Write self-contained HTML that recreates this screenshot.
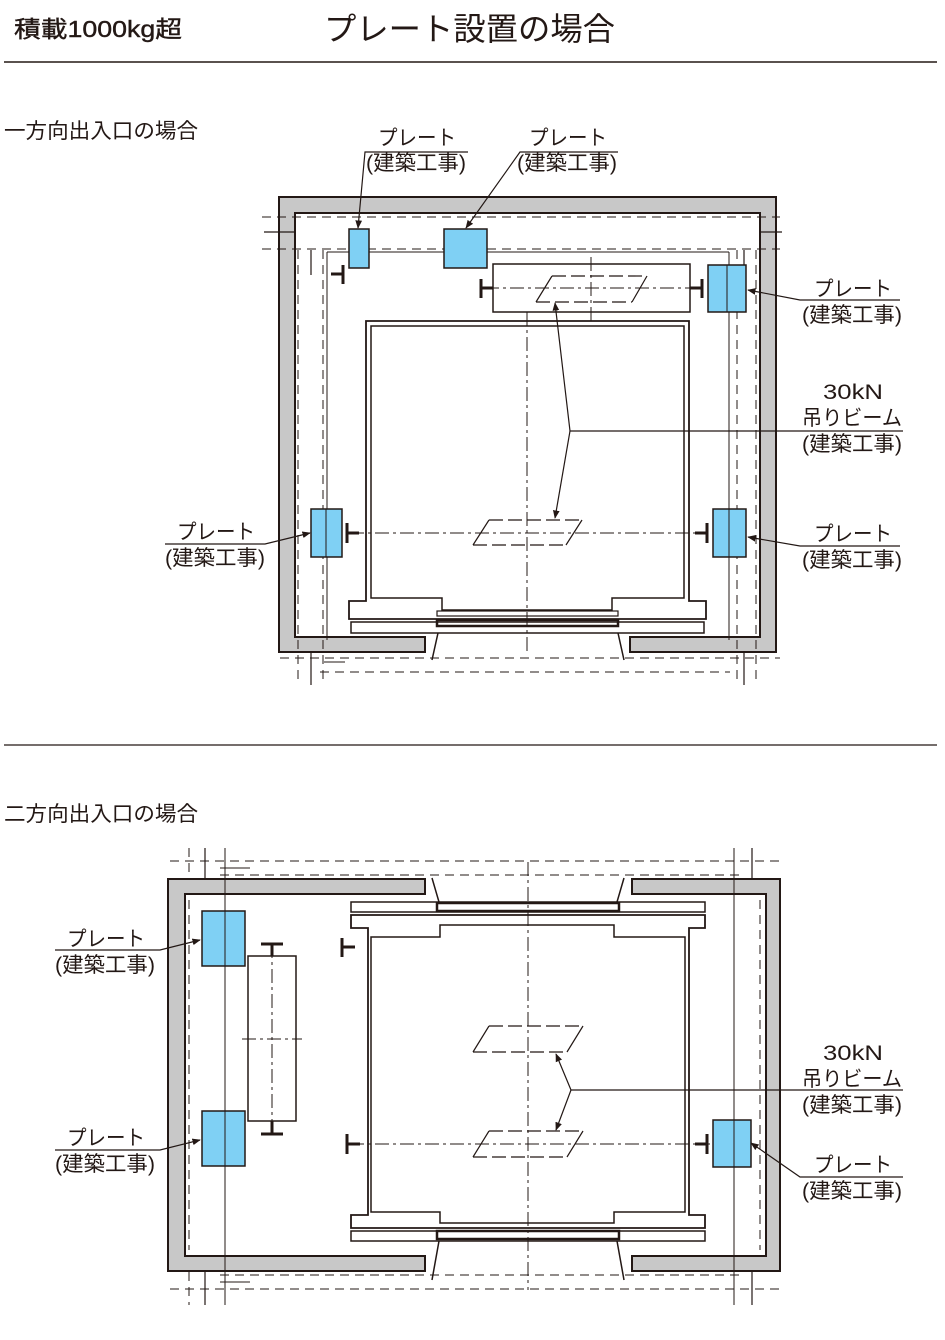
<!DOCTYPE html>
<html><head><meta charset="utf-8"><style>
html,body{margin:0;padding:0;background:#fff;}
svg{display:block;}
text{font-family:"Liberation Sans","Noto Sans CJK JP",sans-serif;fill:#231815;}
</style></head><body>
<svg width="945" height="1340" viewBox="0 0 945 1340" xmlns="http://www.w3.org/2000/svg">
<defs>
<marker id="ar" viewBox="0 0 10 10" refX="9" refY="5" markerWidth="7" markerHeight="7" orient="auto"><path d="M0,1 L10,5 L0,9 z" fill="#231815"/></marker>
</defs>
<text x="14" y="37" font-size="23" textLength="168" lengthAdjust="spacingAndGlyphs" stroke="#231815" stroke-width="0.4">積載1000kg超</text>
<text x="324" y="40" font-size="32" textLength="291" lengthAdjust="spacingAndGlyphs">プレート設置の場合</text>
<line x1="4" y1="62" x2="937" y2="62" stroke="#231815" stroke-width="1.5"/>
<text x="4" y="138" font-size="21" textLength="194" lengthAdjust="spacingAndGlyphs">一方向出入口の場合</text>
<line x1="4" y1="745" x2="937" y2="745" stroke="#231815" stroke-width="1.2"/>
<text x="4" y="821" font-size="21" textLength="194" lengthAdjust="spacingAndGlyphs">二方向出入口の場合</text>

<g stroke="#231815" fill="none">
<path d="M279,197 H776 V652 H630 V637 H760 V213 H295 V637 H425 V652 H279 Z" fill="#c8c8c8" stroke-width="2"/>
<g stroke-dasharray="9,6" stroke-width="1">
<line x1="262" y1="217" x2="780" y2="217"/>
<line x1="262" y1="249" x2="780" y2="249"/>
<line x1="298" y1="250" x2="298" y2="685"/>
<line x1="323" y1="250" x2="323" y2="685"/>
<line x1="756" y1="250" x2="756" y2="685"/>
<line x1="737" y1="250" x2="737" y2="685"/>
<line x1="280" y1="658" x2="780" y2="658"/>
<line x1="320" y1="672" x2="730" y2="672"/>
</g>
<line x1="327" y1="252" x2="729" y2="252" stroke-width="1"/>
<line x1="327" y1="252" x2="327" y2="640" stroke-width="1"/>
<line x1="729" y1="252" x2="729" y2="640" stroke-width="1"/>
<line x1="311" y1="250" x2="311" y2="275" stroke-width="1.2"/>
<line x1="744" y1="250" x2="744" y2="275" stroke-width="1.2"/>
<line x1="264" y1="232" x2="295" y2="232" stroke-width="1.2"/>
<line x1="760" y1="232" x2="782" y2="232" stroke-width="1.2"/>
<line x1="311" y1="652" x2="311" y2="685" stroke-width="1.2"/>
<line x1="744" y1="652" x2="744" y2="685" stroke-width="1.2"/>
<line x1="324" y1="662" x2="345" y2="662" stroke-width="1"/>
<g fill="#7fd0f4" stroke-width="1.5">
<rect x="349" y="229" width="20" height="39"/>
<rect x="444" y="229" width="43" height="39"/>
<rect x="708" y="265" width="38" height="47"/>
<rect x="311" y="509" width="31" height="48"/>
<rect x="713" y="509" width="33" height="48"/>
</g>
<line x1="727" y1="265" x2="727" y2="312" stroke-width="1"/>
<line x1="326" y1="509" x2="326" y2="557" stroke-width="1"/>
<line x1="729" y1="509" x2="729" y2="557" stroke-width="1"/>
<rect x="493" y="264" width="197" height="48" stroke-width="1.5"/>
<g stroke-width="3">
<line x1="481" y1="279" x2="481" y2="298"/><line x1="481" y1="288" x2="493" y2="288"/>
<line x1="702" y1="279" x2="702" y2="298"/><line x1="690" y1="288" x2="702" y2="288"/>
<line x1="343" y1="265" x2="343" y2="284"/><line x1="331" y1="274" x2="343" y2="274"/>
<line x1="347" y1="523" x2="347" y2="543"/><line x1="347" y1="533" x2="359" y2="533"/>
<line x1="707" y1="523" x2="707" y2="543"/><line x1="695" y1="533" x2="707" y2="533"/>
</g>
<path d="M366,321 H689 V601 H706 V619 H349 V601 H366 Z" stroke-width="1.8" fill="#fff"/>
<path d="M371,326 H684 V598 H612 V610 H442 V598 H371 Z" stroke-width="1.5"/>
<rect x="351" y="622" width="353" height="11" stroke-width="1.5"/>
<rect x="437" y="611" width="181" height="5" stroke-width="1.2"/>
<rect x="437" y="620" width="181" height="6" stroke-width="2.5"/>
<path d="M438,633 L432,660 M618,633 L624,660" stroke-width="1.5"/>
<g stroke-dasharray="14,4,3,4" stroke-width="1">
<line x1="527" y1="312" x2="527" y2="655"/>
<line x1="591" y1="257" x2="591" y2="321"/>
<line x1="485" y1="288" x2="700" y2="288"/>
<line x1="350" y1="533" x2="705" y2="533"/>
</g>
<g stroke-width="1.2">
<path d="M536,302 L552,276 M632,302 L647,276"/>
<path d="M473,545 L489,520 M566,545 L582,520"/>
</g>
<g stroke-dasharray="14,5" stroke-width="1.2">
<line x1="552" y1="276" x2="647" y2="276"/><line x1="536" y1="302" x2="632" y2="302"/>
<line x1="489" y1="520" x2="582" y2="520"/><line x1="473" y1="545" x2="566" y2="545"/>
</g>
<g stroke-width="1.2">
<polyline points="903,431 570,431 555,303" marker-end="url(#ar)"/>
<polyline points="570,431 555,518" marker-end="url(#ar)"/>
<polyline points="468,152 365,152 358,228" marker-end="url(#ar)"/>
<polyline points="618,152 520,152 466,228" marker-end="url(#ar)"/>
<polyline points="900,300 800,300 748,290" marker-end="url(#ar)"/>
<polyline points="900,546 800,546 748,537" marker-end="url(#ar)"/>
<polyline points="165,544 265,544 310,533" marker-end="url(#ar)"/>
</g>

<path d="M168,879 H425 V894 H185 V1256 H425 V1271 H168 Z" fill="#c8c8c8" stroke-width="2"/>
<path d="M780,879 H632 V894 H766 V1256 H632 V1271 H780 Z" fill="#c8c8c8" stroke-width="2"/>
<g stroke-dasharray="9,6" stroke-width="1">
<line x1="170" y1="861" x2="780" y2="861"/>
<line x1="220" y1="875" x2="740" y2="875"/>
<line x1="170" y1="1289" x2="780" y2="1289"/>
<line x1="220" y1="1275" x2="740" y2="1275"/>
<line x1="189" y1="900" x2="189" y2="1250"/>
<line x1="760" y1="900" x2="760" y2="1250"/>
<line x1="189" y1="848" x2="189" y2="878"/><line x1="189" y1="1272" x2="189" y2="1305"/>
</g>
<line x1="225" y1="848" x2="225" y2="1305" stroke-width="1"/>
<line x1="734" y1="848" x2="734" y2="1305" stroke-width="1"/>
<line x1="205" y1="848" x2="205" y2="879" stroke-width="1.2"/>
<line x1="205" y1="1271" x2="205" y2="1305" stroke-width="1.2"/>
<line x1="752" y1="848" x2="752" y2="879" stroke-width="1.2"/>
<line x1="752" y1="1271" x2="752" y2="1305" stroke-width="1.2"/>
<line x1="220" y1="868" x2="250" y2="868" stroke-width="1"/>
<line x1="220" y1="1282" x2="250" y2="1282" stroke-width="1"/>
<g fill="#7fd0f4" stroke-width="1.5">
<rect x="202" y="911" width="43" height="55"/>
<rect x="202" y="1111" width="43" height="55"/>
<rect x="713" y="1120" width="38" height="47"/>
</g>
<line x1="225" y1="911" x2="225" y2="966" stroke-width="1"/>
<line x1="225" y1="1111" x2="225" y2="1166" stroke-width="1"/>
<line x1="734" y1="1120" x2="734" y2="1167" stroke-width="1"/>
<rect x="248" y="956" width="48" height="165" stroke-width="1.5"/>
<line x1="272" y1="944" x2="272" y2="1134" stroke-dasharray="14,4,3,4" stroke-width="1"/>
<line x1="242" y1="1039" x2="302" y2="1039" stroke-dasharray="14,4,3,4" stroke-width="1"/>
<g stroke-width="3">
<line x1="261" y1="944" x2="283" y2="944"/><line x1="272" y1="944" x2="272" y2="956"/>
<line x1="261" y1="1134" x2="283" y2="1134"/><line x1="272" y1="1121" x2="272" y2="1134"/>
<line x1="342" y1="938" x2="342" y2="957"/><line x1="342" y1="947" x2="355" y2="947"/>
<line x1="347" y1="1134" x2="347" y2="1154"/><line x1="347" y1="1144" x2="360" y2="1144"/>
<line x1="707" y1="1134" x2="707" y2="1154"/><line x1="695" y1="1144" x2="707" y2="1144"/>
</g>
<path d="M351,915 H705 V928 H689 V1215 H705 V1228 H351 V1215 H368 V928 H351 Z" stroke-width="1.8" fill="#fff"/>
<path d="M371,937 H440 V925 H614 V937 H685 V1212 H614 V1223 H440 V1212 H371 Z" stroke-width="1.5"/>
<rect x="351" y="902" width="354" height="10" stroke-width="1.5"/>
<rect x="351" y="1231" width="354" height="10" stroke-width="1.5"/>
<rect x="437" y="903" width="182" height="8" stroke-width="2.5"/>
<rect x="437" y="1231" width="182" height="8" stroke-width="2.5"/>
<path d="M432,878 L439,902 M624,878 L617,902 M432,1280 L439,1241 M624,1280 L617,1241" stroke-width="1.5"/>
<g stroke-dasharray="14,4,3,4" stroke-width="1">
<line x1="528" y1="862" x2="528" y2="1290"/>
<line x1="350" y1="1144" x2="710" y2="1144"/>
</g>
<g stroke-width="1.2">
<path d="M473,1052 L489,1026 M567,1052 L583,1026"/>
<path d="M473,1157 L489,1131 M567,1157 L583,1131"/>
</g>
<g stroke-dasharray="14,5" stroke-width="1.2">
<line x1="489" y1="1026" x2="583" y2="1026"/><line x1="473" y1="1052" x2="567" y2="1052"/>
<line x1="489" y1="1131" x2="583" y2="1131"/><line x1="473" y1="1157" x2="567" y2="1157"/>
</g>
<g stroke-width="1.2">
<polyline points="903,1090 571,1090 556,1054" marker-end="url(#ar)"/>
<polyline points="571,1090 556,1130" marker-end="url(#ar)"/>
<polyline points="55,950 160,950 200,940" marker-end="url(#ar)"/>
<polyline points="55,1150 160,1150 200,1140" marker-end="url(#ar)"/>
<polyline points="903,1177 800,1177 751,1143" marker-end="url(#ar)"/>
</g>
</g>

<g font-size="21">
<text x="378" y="145" textLength="78" lengthAdjust="spacingAndGlyphs">プレート</text><text x="366" y="170" textLength="100" lengthAdjust="spacingAndGlyphs">(建築工事)</text>
<text x="529" y="145" textLength="78" lengthAdjust="spacingAndGlyphs">プレート</text><text x="517" y="170" textLength="100" lengthAdjust="spacingAndGlyphs">(建築工事)</text>
<text x="814" y="296" textLength="78" lengthAdjust="spacingAndGlyphs">プレート</text><text x="802" y="322" textLength="100" lengthAdjust="spacingAndGlyphs">(建築工事)</text>
<text x="823" y="399" textLength="60" lengthAdjust="spacingAndGlyphs">30kN</text><text x="802" y="425" textLength="100" lengthAdjust="spacingAndGlyphs">吊りビーム</text><text x="802" y="451" textLength="100" lengthAdjust="spacingAndGlyphs">(建築工事)</text>
<text x="814" y="541" textLength="78" lengthAdjust="spacingAndGlyphs">プレート</text><text x="802" y="567" textLength="100" lengthAdjust="spacingAndGlyphs">(建築工事)</text>
<text x="177" y="539" textLength="78" lengthAdjust="spacingAndGlyphs">プレート</text><text x="165" y="565" textLength="100" lengthAdjust="spacingAndGlyphs">(建築工事)</text>
<text x="67" y="946" textLength="78" lengthAdjust="spacingAndGlyphs">プレート</text><text x="55" y="972" textLength="100" lengthAdjust="spacingAndGlyphs">(建築工事)</text>
<text x="67" y="1145" textLength="78" lengthAdjust="spacingAndGlyphs">プレート</text><text x="55" y="1171" textLength="100" lengthAdjust="spacingAndGlyphs">(建築工事)</text>
<text x="823" y="1060" textLength="60" lengthAdjust="spacingAndGlyphs">30kN</text><text x="802" y="1086" textLength="100" lengthAdjust="spacingAndGlyphs">吊りビーム</text><text x="802" y="1112" textLength="100" lengthAdjust="spacingAndGlyphs">(建築工事)</text>
<text x="814" y="1172" textLength="78" lengthAdjust="spacingAndGlyphs">プレート</text><text x="802" y="1198" textLength="100" lengthAdjust="spacingAndGlyphs">(建築工事)</text>
</g>
</svg>
</body></html>
